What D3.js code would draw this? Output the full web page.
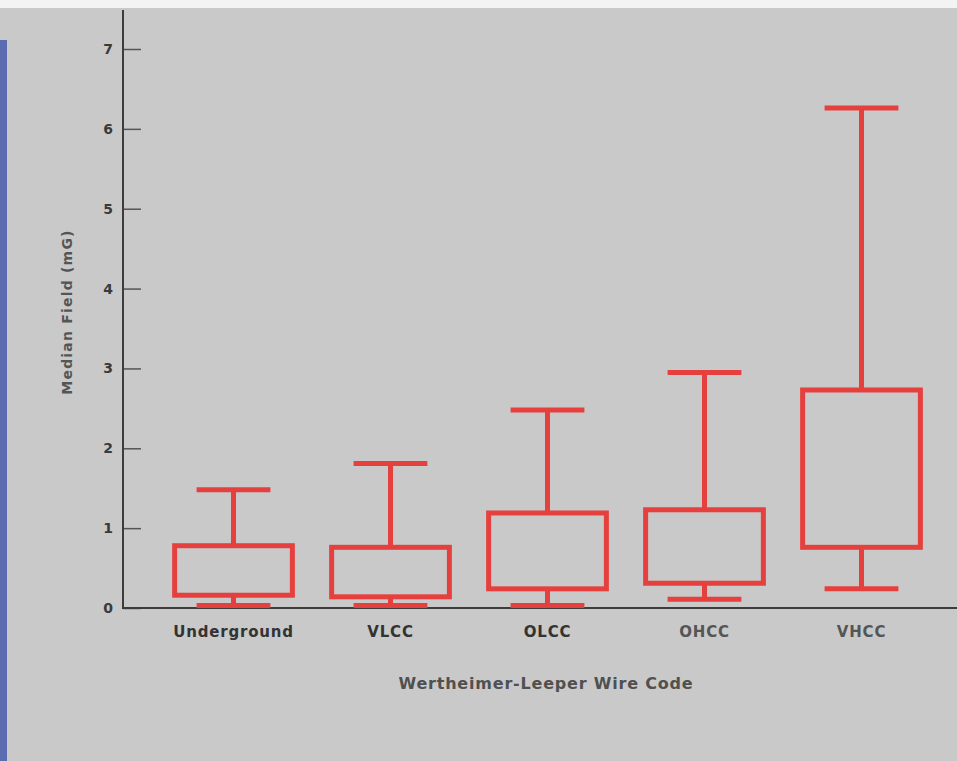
<!DOCTYPE html>
<html>
<head>
<meta charset="utf-8">
<script src="https://cdn.jsdelivr.net/npm/d3@7"></script>
<style>
    body { margin: 0; background: #c9c9c9; }
    svg { display: block; }
</style>
</head>
<body>
<div id="container"></div>
<script>
const width = 957;
const height = 761;

const categories = ['Underground', 'VLCC', 'OLCC', 'OHCC', 'VHCC'];
const whiskerLow = [0.03, 0.03, 0.03, 0.11, 0.24];
const q1 = [0.16, 0.14, 0.24, 0.31, 0.76];
const q3 = [0.78, 0.76, 1.19, 1.23, 2.73];
const whiskerHigh = [1.48, 1.81, 2.48, 2.95, 6.26];
const yTicks = [0, 1, 2, 3, 4, 5, 6, 7];

const RED = '#e5403d';

let rows = categories.map((c, i) => ({
    name: c, lo: whiskerLow[i], q1: q1[i], q3: q3[i], hi: whiskerHigh[i]
}));

let x = d3.scaleBand()
    .domain(categories)
    .range([155, 940]);

let y = d3.scaleLinear()
    .domain([0, 7])
    .range([608, 49]);

let svg = d3.select('#container').append('svg')
    .attr('width', width)
    .attr('height', height)
    .attr('viewBox', `0 0 ${width} ${height}`);

// scan background: white strip on top, blue edge on the left
svg.append('rect')
    .attr('width', width).attr('height', height)
    .attr('fill', '#c9c9c9');
svg.append('rect')
    .attr('width', width).attr('height', 8)
    .attr('fill', '#f3f3f3');
svg.append('rect')
    .attr('x', 0).attr('y', 40)
    .attr('width', 7).attr('height', height - 40)
    .attr('fill', '#5c6cb0');

// y axis
let yAxis = svg.append('g')
    .attr('transform', 'translate(123,0)')
    .call(d3.axisLeft(y)
        .tickValues(yTicks)
        .tickFormat(d3.format('d'))
        .tickSizeInner(-18)
        .tickSizeOuter(0)
        .tickPadding(10));
yAxis.select('.domain').remove();
yAxis.selectAll('.tick line')
    .attr('stroke', '#555')
    .attr('stroke-width', 1.5);
yAxis.selectAll('.tick text')
    .attr('font-family', 'DejaVu Sans')
    .attr('font-weight', 'bold')
    .attr('font-size', 14)
    .attr('fill', '#3a3a3a');

svg.append('line')
    .attr('x1', 123).attr('x2', 123)
    .attr('y1', 10).attr('y2', y(0))
    .attr('stroke', '#3c3c3c')
    .attr('stroke-width', 2);

// x axis
svg.append('line')
    .attr('x1', 122).attr('x2', width)
    .attr('y1', y(0)).attr('y2', y(0))
    .attr('stroke', '#3c3c3c')
    .attr('stroke-width', 2);

let xAxis = svg.append('g')
    .attr('transform', `translate(0,${y(0)})`)
    .call(d3.axisBottom(x).tickSize(0).tickPadding(18));
xAxis.select('.domain').remove();
xAxis.selectAll('.tick text')
    .attr('font-family', 'DejaVu Sans')
    .attr('font-weight', 'bold')
    .attr('font-size', 15)
    .attr('letter-spacing', 0.8)
    .attr('fill', (d, i) => i < 3 ? '#333' : '#555');

// axis titles
svg.append('text')
    .attr('transform', `translate(72,${312}) rotate(-90)`)
    .attr('text-anchor', 'middle')
    .attr('font-family', 'DejaVu Sans')
    .attr('font-weight', 'bold')
    .attr('font-size', 14)
    .attr('letter-spacing', 1.2)
    .attr('fill', '#555')
    .text('Median Field (mG)');

svg.append('text')
    .attr('x', 546)
    .attr('y', 689)
    .attr('text-anchor', 'middle')
    .attr('font-family', 'DejaVu Sans')
    .attr('font-weight', 'bold')
    .attr('font-size', 16)
    .attr('letter-spacing', 0.8)
    .attr('fill', '#505050')
    .text('Wertheimer-Leeper Wire Code');

// boxes
let boxW = x.bandwidth() * 0.75;
let capW = x.bandwidth() * 0.47;

let box = svg.append('g')
    .attr('stroke', RED)
    .attr('stroke-width', 5)
    .attr('fill', 'none')
    .selectAll('g')
    .data(rows)
    .join('g')
    .attr('transform', d => 'translate(' + (x(d.name) + x.bandwidth() / 2) + ',0)');

box.append('line')
    .attr('x1', 0).attr('x2', 0)
    .attr('y1', d => y(d.hi)).attr('y2', d => y(d.q3));
box.append('line')
    .attr('x1', 0).attr('x2', 0)
    .attr('y1', d => y(d.q1)).attr('y2', d => y(d.lo));
box.append('line')
    .attr('x1', -capW / 2).attr('x2', capW / 2)
    .attr('y1', d => y(d.hi)).attr('y2', d => y(d.hi));
box.append('line')
    .attr('x1', -capW / 2).attr('x2', capW / 2)
    .attr('y1', d => y(d.lo)).attr('y2', d => y(d.lo));
box.append('rect')
    .attr('x', -boxW / 2)
    .attr('width', boxW)
    .attr('y', d => y(d.q3))
    .attr('height', d => y(d.q1) - y(d.q3));
</script>
</body>
</html>
